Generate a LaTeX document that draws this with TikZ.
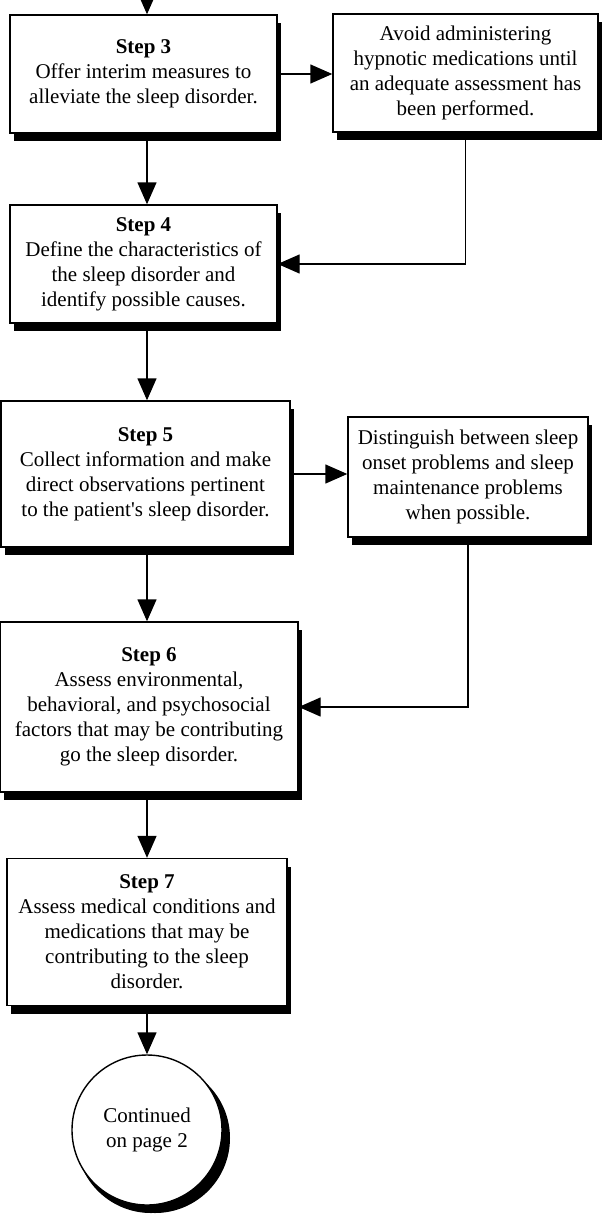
\documentclass[tikz,border=0pt]{standalone}
\usepackage{fontspec}
\setmainfont{Liberation Serif}
\usepackage{tikz}
\usetikzlibrary{arrows.meta,shadows}

\begin{document}
\begin{tikzpicture}[x=1pt,y=-1pt,>={Triangle[length=22pt,width=19pt]},
  every node/.style={font=\fontsize{21}{25}\selectfont,align=center,inner sep=0pt},
  boxed/.style={draw,line width=1.4pt,fill=white,
    drop shadow={shadow xshift=4pt,shadow yshift=-8pt,fill=black,opacity=1}},
  link/.style={->,line width=1.4pt}]
  \useasboundingbox (0,0) rectangle (605,1215);
  \coordinate (spine) at (147,-4);
  % boxes
  \node[boxed,minimum width=267pt,minimum height=118pt] (s3) at (143.5,74)
    {\textbf{Step 3}\\Offer interim measures to\\alleviate the sleep disorder.};
  \node[boxed,minimum width=265pt,minimum height=118pt] (avoid) at (465.5,73)
    {Avoid administering\\hypnotic medications until\\an adequate assessment has\\been performed.};
  \node[boxed,minimum width=267pt,minimum height=118pt] (s4) at (143.5,264)
    {\textbf{Step 4}\\Define the characteristics of\\the sleep disorder and\\identify possible causes.};
  \node[boxed,minimum width=289pt,minimum height=146pt] (s5) at (145.5,474)
    {\textbf{Step 5}\\Collect information and make\\direct observations pertinent\\to the patient\textquotesingle s sleep disorder.};
  \node[boxed,minimum width=240pt,minimum height=120pt] (dist) at (468,477)
    {Distinguish between sleep\\onset problems and sleep\\maintenance problems\\when possible.};
  \node[boxed,minimum width=298pt,minimum height=170pt] (s6) at (149,707)
    {\textbf{Step 6}\\Assess environmental,\\behavioral, and psychosocial\\factors that may be contributing\\go the sleep disorder.};
  \node[boxed,minimum width=280pt,minimum height=147pt] (s7) at (147,932)
    {\textbf{Step 7}\\Assess medical conditions and\\medications that may be\\contributing to the sleep\\disorder.};
  \node[boxed,circle,minimum size=150pt,
    drop shadow={shadow xshift=8pt,shadow yshift=-8pt,fill=black,opacity=1}] (cont) at (147,1130)
    {Continued\\on page 2};
  % connectors
  \draw[link] (spine) -- (s3.north -| spine);
  \draw[link] (s3.east) -- (s3.east -| avoid.west);
  \draw[link] (s3.south -| spine) -- (s4.north -| spine);
  \draw[link] (avoid.south) |- (s4.east);
  \draw[link] (s4.south -| spine) -- (s5.north -| spine);
  \draw[link] (s5.east) -- (s5.east -| dist.west);
  \draw[link] (s5.south -| spine) -- (s6.north -| spine);
  \draw[link] (dist.south) |- (s6.east);
  \draw[link] (s6.south -| spine) -- (s7.north -| spine);
  \draw[link] (s7.south -| spine) -- (cont.north);
\end{tikzpicture}
\end{document}
